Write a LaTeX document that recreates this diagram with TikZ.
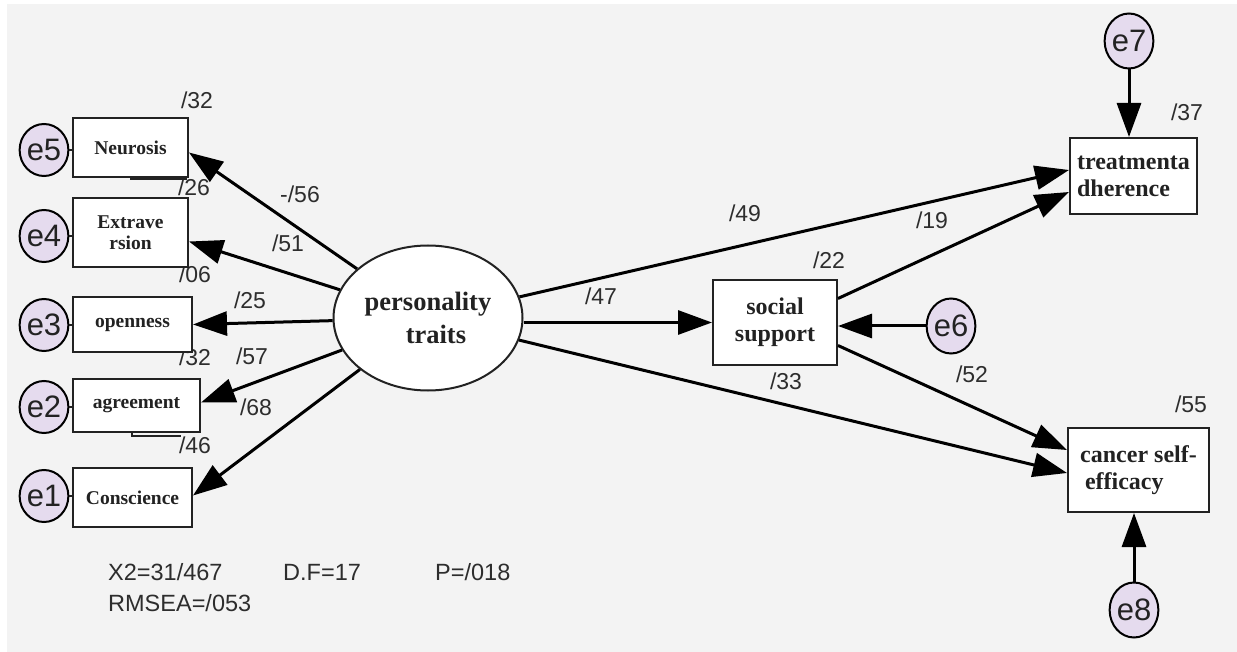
\documentclass[tikz,border=0pt]{standalone}
\usepackage{fontspec}
\setmainfont{Liberation Serif}
\setsansfont{Liberation Sans}
\usetikzlibrary{arrows.meta,shapes.geometric,calc}
\definecolor{bgc}{RGB}{243,243,243}
\definecolor{errfill}{RGB}{229,219,238}
\definecolor{txt}{RGB}{34,34,34}
\definecolor{labc}{RGB}{45,45,45}
\begin{document}
\begin{tikzpicture}[x=1pt,y=-1pt,
  box/.style={draw=txt, line width=2pt, fill=white, inner sep=0pt, align=center, text=txt,
    font=\bfseries\fontsize{19.5}{21.5}\selectfont},
  bigbox/.style={box, font=\bfseries\fontsize{24}{27}\selectfont},
  err/.style={ellipse, draw=black, line width=2pt, fill=errfill, inner sep=0pt,
    minimum width=46pt, minimum height=52pt, text=txt, font=\sffamily\fontsize{31}{31}\selectfont},
  errb/.style={err, minimum width=48pt, minimum height=55pt},
  arr/.style={line width=3pt, draw=black, -{Triangle[length=34pt,width=24pt]}},
  eline/.style={line width=2pt, draw=txt},
  lab/.style={font=\sffamily\fontsize{23}{23}\selectfont, text=labc, inner sep=0pt},
  stat/.style={font=\sffamily\fontsize{23.5}{23.5}\selectfont, text=labc, inner sep=0pt, anchor=base west}]
\useasboundingbox (0,0) rectangle (1237,652);
\fill[bgc] (7,4) rectangle (1237,652);

% coefficient labels
\node[lab] (l32a) at (197,100) {/32};
\node[lab] (l56) at (300,194) {-/56};
\node[lab] (l26) at (194,187) {/26};
\node[lab] (l51) at (288,243) {/51};
\node[lab] (l06) at (195,274) {/06};
\node[lab] (l25) at (250,300) {/25};
\node[lab] (l32b) at (195,357) {/32};
\node[lab] (l57) at (252,356) {/57};
\node[lab] (l68) at (256,407) {/68};
\node[lab] (l46) at (195,445) {/46};
\node[lab] (l49) at (745,213) {/49};
\node[lab] (l19) at (932,220) {/19};
\node[lab] (l22) at (829,260) {/22};
\node[lab] (l47) at (601,296) {/47};
\node[lab] (l33) at (786,381) {/33};
\node[lab] (l52) at (972,374) {/52};
\node[lab] (l37) at (1187,112) {/37};
\node[lab] (l55) at (1191,404) {/55};

% residue marks behind boxes
\draw[line width=3pt, draw=txt] (130,178.5) -- (187,178.5);
\draw[line width=2.5pt, draw=txt] (132,431) -- (132,436) -- (181,436);

% observed variables (left)
\node[box, minimum width=115pt, minimum height=59pt] (neur) at (130.5,147.5) {Neurosis};
\node[box, minimum width=115pt, minimum height=69pt] (extra) at (130.5,232.5) {Extrave\\rsion};
\node[box, minimum width=119pt, minimum height=55pt] (open) at (132.5,324.5) {openness};
\node[box, minimum width=127pt, minimum height=53pt] (agree) at (136.5,405.5) {agreement};
\node[box, minimum width=119pt, minimum height=59pt] (consc) at (132.5,497.5) {Conscience};

% error terms (left)
\node[err] (e5) at (44,150) {e5};
\node[err] (e4) at (44,236) {e4};
\node[err] (e3) at (44,325) {e3};
\node[err] (e2) at (44,407) {e2};
\node[err] (e1) at (44,496) {e1};

% latent variable
\node[ellipse, draw=txt, line width=2pt, fill=white, minimum width=189pt, minimum height=145pt,
  inner sep=0pt, align=center, text=txt, font=\bfseries\fontsize{26.5}{33}\selectfont]
  (pt) at (428,318) {personality\\\hspace*{0.6em}traits};

% right side
\node[bigbox, minimum width=124pt, minimum height=85pt] (social) at (775,322.5) {social\\support};
\node[bigbox, minimum width=127pt, minimum height=76pt, align=left] (treat) at (1133.5,176) {treatmenta\\dherence};
\node[bigbox, minimum width=141pt, minimum height=84pt, align=left] (cancer) at (1138.5,470) {cancer self-\\\hspace*{0.2em}efficacy};

\node[errb] (e6) at (951,326) {e6};
\node[errb] (e7) at (1129,41) {e7};
\node[errb] (e8) at (1134,610) {e8};

% error links (left)
\draw[eline] (e5.east) -- (e5.east -| neur.west);
\draw[eline] (e4.east) -- (e4.east -| extra.west);
\draw[eline] (e3.east) -- (e3.east -| open.west);
\draw[eline] (e2.east) -- (e2.east -| agree.west);
\draw[eline] (e1.east) -- (e1.east -| consc.west);

% loadings
\draw[arr] (pt) -- ($(neur.east)+(0,5)$);
\draw[arr] (pt) -- ($(extra.east)+(0,9)$);
\draw[arr] (pt) -- (open.east);
\draw[arr] (pt) -- ($(agree.east)+(0,-3)$);
\draw[arr] (pt) -- ($(consc.east)+(0,-2)$);

% structural paths
\draw[arr] (pt) -- ($(treat.west)+(0,-6)$);
\draw[arr] (pt.east |- social.west) -- (social.west);
\draw[arr] (pt) -- ($(cancer.west)+(0,3)$);
\draw[arr] ($(social.east)+(0,-24)$) -- ($(treat.west)+(0,16)$);
\draw[arr] ($(social.east)+(0,23)$) -- ($(cancer.west)+(0,-20)$);

% residual arrows (right)
\draw[arr] (e6.west) -- (e6.west -| social.east);
\draw[arr] (e7.south) -- (e7.south |- treat.north);
\draw[arr] (e8.north) -- (e8.north |- cancer.south);

% fit statistics
\node[stat] (chi) at (108,580) {X2=31/467};
\node[stat] (df) at (283,580) {D.F=17};
\node[stat] (pv) at (435,580) {P=/018};
\node[stat] (rmsea) at (108,611) {RMSEA=/053};
\end{tikzpicture}
\end{document}
